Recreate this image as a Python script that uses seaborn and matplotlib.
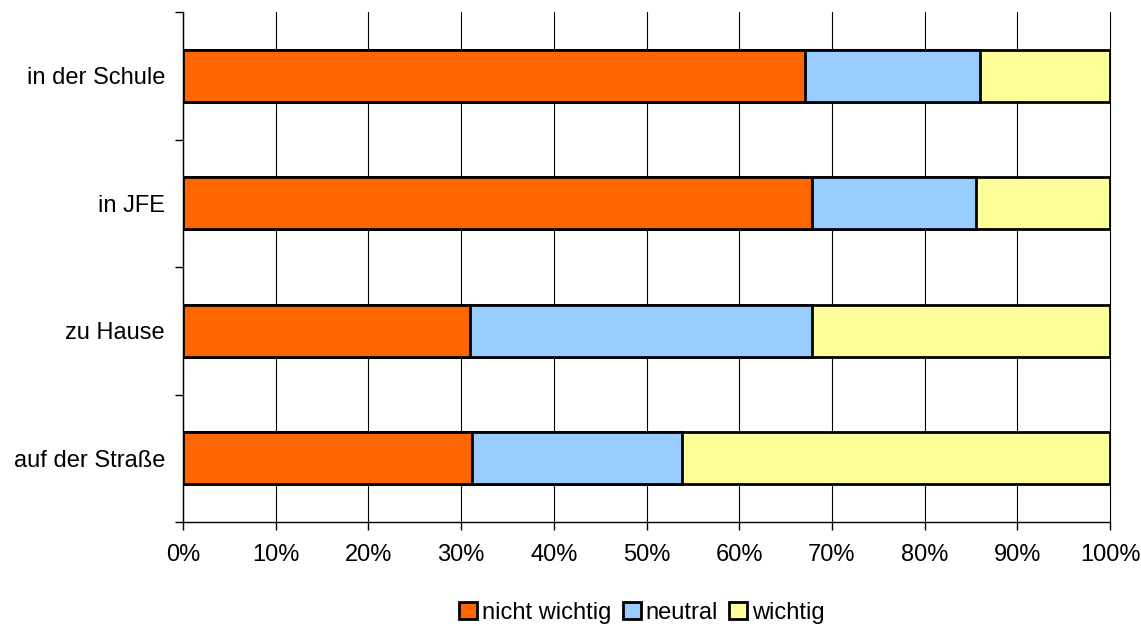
import matplotlib
matplotlib.use("Agg")
import matplotlib.pyplot as plt
from matplotlib.patches import Patch
from matplotlib.ticker import FixedLocator, PercentFormatter
import numpy as np
import pandas as pd
import seaborn as sns

# Share of answers per place (percent)
places = ["in der Schule", "in JFE", "zu Hause", "auf der Straße"]
nicht_wichtig = [67.1, 67.9, 31.0, 31.2]
neutral = [18.9, 17.6, 36.9, 22.6]
wichtig = [14.0, 14.5, 32.1, 46.2]

series_names = ["nicht wichtig", "neutral", "wichtig"]
colors = ["#FF6600", "#99CCFF", "#FFFF99"]

df = pd.DataFrame({
    "Ort": places,
    "nicht wichtig": nicht_wichtig,
    "neutral": neutral,
    "wichtig": wichtig,
})
# cumulative ends for stacking
df["c1"] = df["nicht wichtig"]
df["c2"] = df["c1"] + df["neutral"]
df["c3"] = df["c2"] + df["wichtig"]

sns.set_style("white")
plt.rcParams["font.family"] = ["Liberation Sans", "DejaVu Sans"]
plt.rcParams["text.color"] = "black"
plt.rcParams["xtick.color"] = "black"
plt.rcParams["ytick.color"] = "black"

fig = plt.figure(figsize=(11.41, 6.26), dpi=100)
ax = fig.add_axes([183 / 1141, 1 - 522 / 626, (1110 - 183) / 1141, (522 - 12) / 626])

# draw from the outermost cumulative segment inwards
for col, color in zip(["c3", "c2", "c1"], colors[::-1]):
    sns.barplot(data=df, x=col, y="Ort", order=places, orient="h", color=color,
                edgecolor="black", linewidth=2, width=0.41, ax=ax, zorder=3,
                saturation=1)

ax.set_xlim(0, 100)
ax.set_ylim(3.5, -0.5)
ax.set_xlabel("")
ax.set_ylabel("")

ax.xaxis.set_major_locator(FixedLocator(np.arange(0, 101, 10)))
ax.xaxis.set_major_formatter(PercentFormatter(decimals=0))
ax.grid(axis="x", color="black", linewidth=0.8, zorder=0)
ax.set_axisbelow(True)
for gl in ax.xaxis.get_gridlines():
    gl.set_clip_on(False)

ax.set_yticks(range(len(places)))
ax.set_yticklabels(places)
ax.yaxis.set_minor_locator(FixedLocator(np.arange(-0.5, len(places), 1.0)))
ax.tick_params(axis="y", which="major", length=0, pad=13, labelsize=17,
               labelcolor="black")
ax.tick_params(axis="y", which="minor", length=6, width=1, color="black", left=True)
ax.tick_params(axis="x", which="major", length=6, width=1, color="black",
               bottom=True, labelsize=17, pad=10, labelcolor="black")

for side in ["top", "right"]:
    ax.spines[side].set_visible(False)
for side in ["left", "bottom"]:
    ax.spines[side].set_color("black")
    ax.spines[side].set_linewidth(1)

handles = [Patch(facecolor=c, edgecolor="black", linewidth=2) for c in colors]
leg = ax.legend(handles, series_names, loc="upper center", bbox_to_anchor=(0.495, -0.115),
                ncol=3, frameon=False, fontsize=17, handlelength=0.75, handleheight=0.75,
                handletextpad=0.2, columnspacing=0.5)
for t in leg.get_texts():
    t.set_color("black")

fig.savefig("out.png", dpi=100, facecolor="white")
